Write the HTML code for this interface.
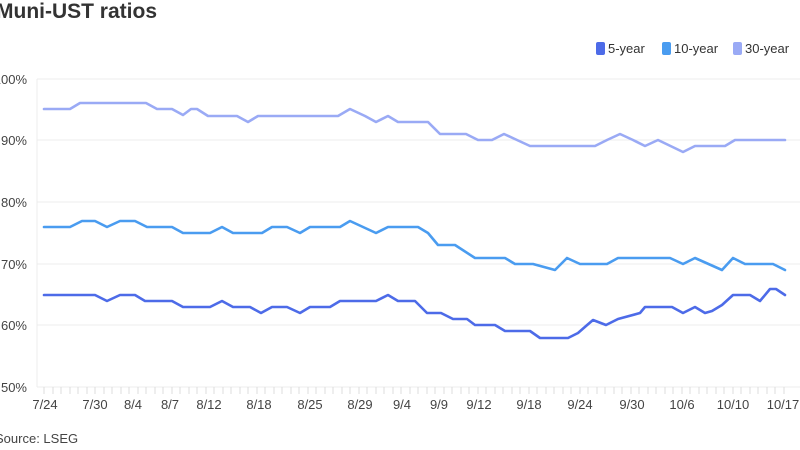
<!DOCTYPE html>
<html><head><meta charset="utf-8"><style>
body{margin:0;width:800px;height:445px;background:#fff;overflow:hidden;font-family:"Liberation Sans",sans-serif;}
</style></head><body>
<svg width="800" height="445" xmlns="http://www.w3.org/2000/svg" font-family="Liberation Sans, sans-serif">
<text x="-4" y="18" font-size="21" font-weight="bold" fill="#333">Muni-UST ratios</text>
<g font-size="13" fill="#333">
<rect x="596" y="42" width="9" height="13" rx="2" fill="#4d6be8"/><text x="608" y="53">5-year</text>
<rect x="662" y="42" width="9" height="13" rx="2" fill="#4a9cf0"/><text x="674" y="53">10-year</text>
<rect x="733" y="42" width="9" height="13" rx="2" fill="#9aaaf5"/><text x="745" y="53">30-year</text>
</g>
<g stroke="#ececec" stroke-width="1">
<line x1="37" x2="800" y1="79" y2="79"/><line x1="37" x2="800" y1="140" y2="140"/>
<line x1="37" x2="800" y1="202" y2="202"/><line x1="37" x2="800" y1="264" y2="264"/>
<line x1="37" x2="800" y1="325" y2="325"/><line x1="37" x2="800" y1="387" y2="387"/>
<line x1="37" x2="37" y1="79" y2="387"/>
</g>
<g stroke="#ddd">
<path d="M44 387v7M53 387v7M61 387v7M70 387v7M78 387v7M87 387v7M95 387v7M104 387v7M112 387v7M121 387v7M129 387v7M138 387v7M146 387v7M155 387v7M163 387v7M172 387v7M180 387v7M189 387v7M197 387v7M206 387v7M214 387v7M223 387v7M231 387v7M240 387v7M248 387v7M257 387v7M265 387v7M274 387v7M282 387v7M291 387v7M299 387v7M308 387v7M316 387v7M325 387v7M333 387v7M342 387v7M350 387v7M359 387v7M367 387v7M376 387v7M384 387v7M393 387v7M401 387v7M410 387v7M418 387v7M427 387v7M435 387v7M444 387v7M452 387v7M461 387v7M469 387v7M478 387v7M486 387v7M495 387v7M503 387v7M512 387v7M520 387v7M529 387v7M537 387v7M546 387v7M554 387v7M563 387v7M571 387v7M580 387v7M588 387v7M597 387v7M605 387v7M614 387v7M622 387v7M631 387v7M639 387v7M648 387v7M656 387v7M665 387v7M673 387v7M682 387v7M690 387v7M699 387v7M707 387v7M716 387v7M724 387v7M733 387v7M741 387v7M750 387v7M758 387v7M767 387v7M775 387v7M784 387v7"/>
</g>
<g font-size="13" fill="#444" text-anchor="end">
<text x="27" y="84">100%</text><text x="27" y="145">90%</text><text x="27" y="207">80%</text>
<text x="27" y="269">70%</text><text x="27" y="330">60%</text><text x="27" y="392">50%</text>
</g>
<g font-size="13" fill="#444" text-anchor="middle">
<text x="45" y="409">7/24</text><text x="95" y="409">7/30</text><text x="133" y="409">8/4</text>
<text x="170" y="409">8/7</text><text x="209" y="409">8/12</text><text x="259" y="409">8/18</text>
<text x="310" y="409">8/25</text><text x="360" y="409">8/29</text><text x="402" y="409">9/4</text>
<text x="439" y="409">9/9</text><text x="479" y="409">9/12</text><text x="529" y="409">9/18</text>
<text x="580" y="409">9/24</text><text x="632" y="409">9/30</text><text x="682" y="409">10/6</text>
<text x="733" y="409">10/10</text><text x="783" y="409">10/17</text>
</g>
<text x="-5" y="443" font-size="13" fill="#444">Source: LSEG</text>
<g fill="none" stroke-width="2.6" stroke-linejoin="round" stroke-linecap="round">
<polyline stroke="#9aaaf5" points="44,109 70,109 80,103 146,103 157,109 172,109 183,115 191,109 197,109 208,116 237,116 248,122 258,116 338,116 350,109 365,116 376,122 388,116 398,122 428,122 440,134 466,134 478,140 492,140 504,134 517,140 530,146 595,146 607,140 620,134 633,140 645,146 658,140 683,152 695,146 725,146 735,140 785,140"/>
<polyline stroke="#4a9cf0" points="44,227 70,227 82,221 95,221 107,227 120,221 135,221 147,227 172,227 183,233 210,233 222,227 233,233 262,233 272,227 287,227 300,233 310,227 340,227 350,221 376,233 388,227 418,227 428,233 438,245 455,245 475,258 505,258 515,264 533,264 555,270 567,258 580,264 607,264 618,258 670,258 683,264 695,258 722,270 733,258 745,264 773,264 785,270"/>
<polyline stroke="#4d6be8" points="44,295 95,295 107,301 120,295 135,295 145,301 172,301 183,307 210,307 222,301 233,307 250,307 261,313 272,307 287,307 300,313 310,307 330,307 340,301 376,301 388,295 398,301 415,301 427,313 441,313 453,319 467,319 475,325 495,325 505,331 530,331 540,338 568,338 578,333 586,326 593,320 606,325 618,319 640,313 645,307 672,307 683,313 695,307 705,313 712,311 722,305 733,295 750,295 760,301 770,289 776,289 785,295"/>
</g>
</svg>
</body></html>
